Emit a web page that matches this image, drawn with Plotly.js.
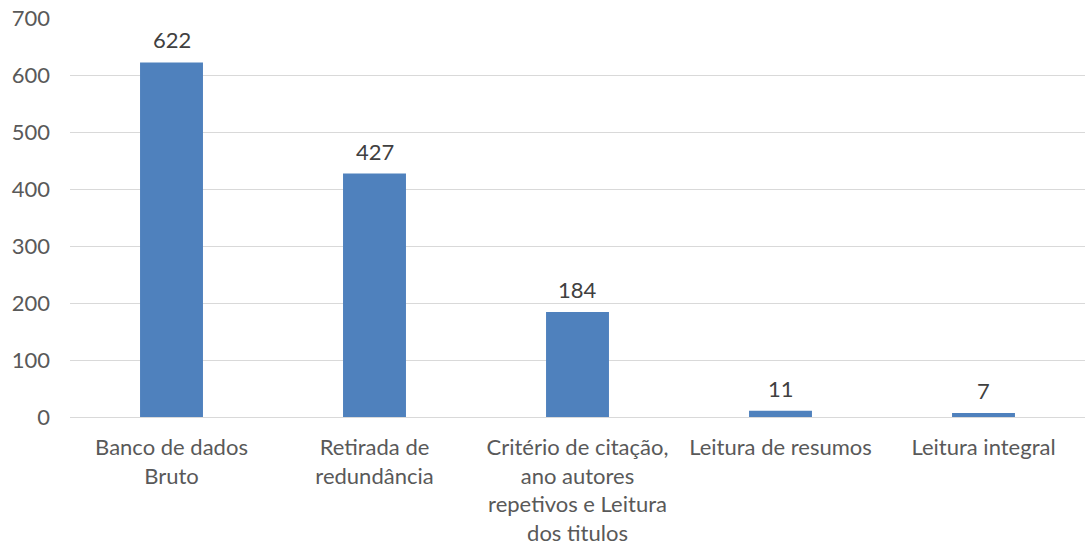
<!DOCTYPE html>
<html lang="en">
<head>
    <meta charset="UTF-8">
    <title>Etapas de seleção</title>
    <script src='https://cdn.plot.ly/plotly-3.0.0.min.js'></script>
    <style>
        html, body { margin: 0; padding: 0; background: #fff; }
        #plot { width: 1085px; height: 548px; }
    </style>
</head>
<body>
    <div id="plot"></div>

    <script>
        // data
        const categories = ['Banco de dados', 'Retirada de', 'Critério de citação,', 'Leitura de resumos', 'Leitura integral'];
        const tickLabels = [
            'Banco de dados<br>Bruto',
            'Retirada de<br>redundância',
            'Critério de citação,<br>ano autores<br>repetivos e Leitura<br>dos titulos',
            'Leitura de resumos',
            'Leitura integral'
        ];
        const values = [622, 427, 184, 11, 7];
        const yTicks = [0, 100, 200, 300, 400, 500, 600, 700];

        const font = 'Lato, "Open Sans", sans-serif';

        const trace = {
            x: categories,
            y: values,
            type: 'bar',
            marker: {color: '#4f81bd'},
            hoverinfo: 'x+y'
        };

        // value labels above each bar
        const labels = values.map((v, i) => ({
            x: categories[i],
            y: v,
            text: String(v),
            xref: 'x', yref: 'y',
            showarrow: false,
            yanchor: 'bottom',
            yshift: 7,
            font: {family: font, size: 22, color: '#404040'}
        }));

        const layout = {
            width: 1085,
            height: 548,
            margin: {l: 70, r: 0, t: 18, b: 131},
            paper_bgcolor: '#ffffff',
            plot_bgcolor: '#ffffff',
            bargap: 0.69,
            showlegend: false,
            font: {family: font, size: 22, color: '#595959'},
            xaxis: {
                tickvals: categories,
                ticktext: tickLabels,
                showgrid: false,
                showline: false,
                ticks: '',
                ticklabelstandoff: 15,
                tickfont: {family: font, size: 22, color: '#595959'}
            },
            yaxis: {
                range: [0, 700],
                tickvals: yTicks,
                showgrid: true,
                gridcolor: '#d9d9d9',
                gridwidth: 1,
                zeroline: true,
                zerolinecolor: '#d9d9d9',
                zerolinewidth: 1,
                showline: false,
                ticks: '',
                ticklabelstandoff: 19,
                tickfont: {family: font, size: 22, color: '#595959'}
            },
            annotations: labels
        };

        Plotly.newPlot('plot', [trace], layout, {displayModeBar: false, staticPlot: true});
    </script>
</body>
</html>
